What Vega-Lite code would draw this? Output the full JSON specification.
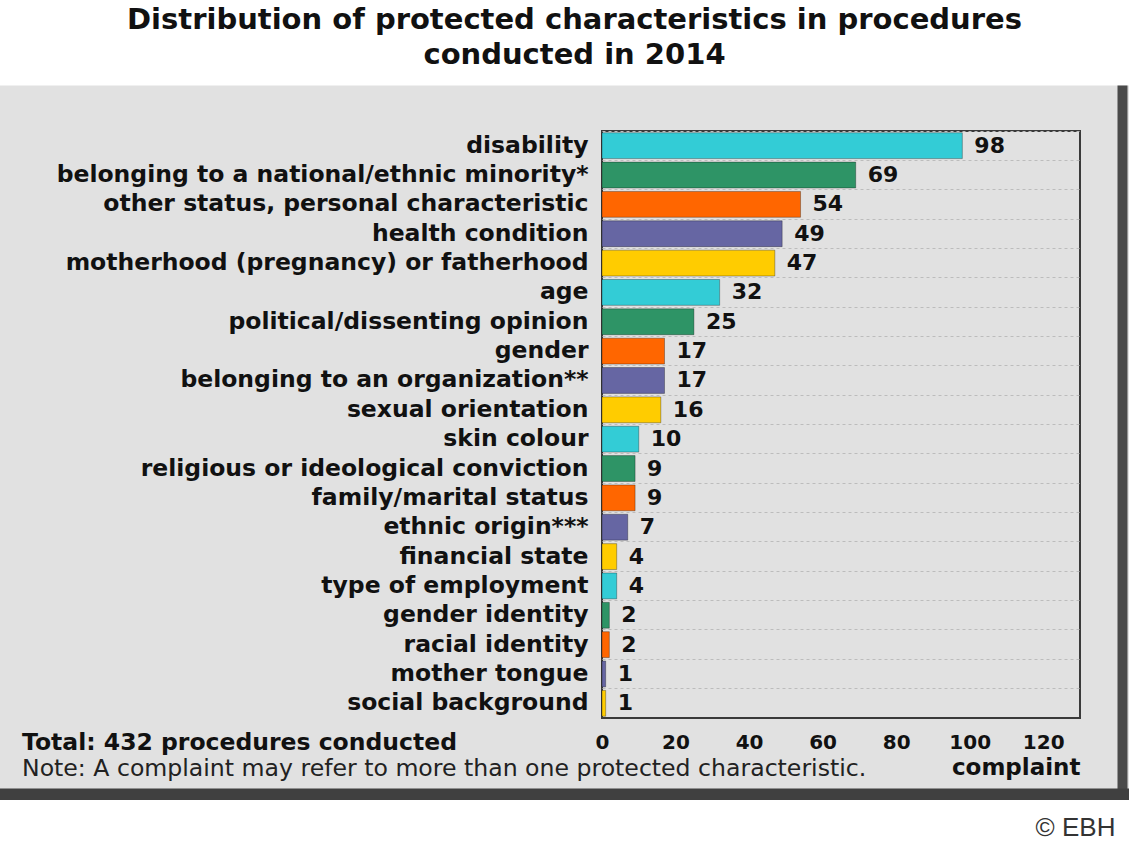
{
  "$schema": "https://vega.github.io/schema/vega-lite/v6.json",
  "width": 478,
  "height": 587,
  "autosize": {"type": "none"},
  "padding": {"left": 602, "top": 131, "right": 49, "bottom": 125},
  "background": "#e1e1e1",
  "config": {
    "font": "DejaVu Sans",
    "view": {"fill": "#e1e1e1", "stroke": "#3a3a3a", "strokeWidth": 2}
  },
  "title": {
    "text": "Total: 432 procedures conducted",
    "subtitle": "Note: A complaint may refer to more than one protected characteristic.",
    "orient": "bottom",
    "anchor": "start",
    "frame": "group",
    "dx": -580,
    "dy": -116,
    "offset": 0,
    "fontSize": 23.5,
    "fontWeight": "bold",
    "color": "#111111",
    "subtitleFontSize": 23.6,
    "subtitleFontWeight": "normal",
    "subtitleColor": "#222222",
    "subtitlePadding": 3
  },
  "data": {
    "values": [
      {"characteristic": "disability", "complaints": 98},
      {"characteristic": "belonging to a national/ethnic minority*", "complaints": 69},
      {"characteristic": "other status, personal characteristic", "complaints": 54},
      {"characteristic": "health condition", "complaints": 49},
      {"characteristic": "motherhood (pregnancy) or fatherhood", "complaints": 47},
      {"characteristic": "age", "complaints": 32},
      {"characteristic": "political/dissenting opinion", "complaints": 25},
      {"characteristic": "gender", "complaints": 17},
      {"characteristic": "belonging to an organization**", "complaints": 17},
      {"characteristic": "sexual orientation", "complaints": 16},
      {"characteristic": "skin colour", "complaints": 10},
      {"characteristic": "religious or ideological conviction", "complaints": 9},
      {"characteristic": "family/marital status", "complaints": 9},
      {"characteristic": "ethnic origin***", "complaints": 7},
      {"characteristic": "financial state", "complaints": 4},
      {"characteristic": "type of employment", "complaints": 4},
      {"characteristic": "gender identity", "complaints": 2},
      {"characteristic": "racial identity", "complaints": 2},
      {"characteristic": "mother tongue", "complaints": 1},
      {"characteristic": "social background", "complaints": 1}
    ]
  },
  "layer": [
    {
      "mark": {"type": "bar", "height": {"band": 0.88}, "stroke": "#000000", "strokeOpacity": 0.3, "strokeWidth": 1},
      "encoding": {
        "x": {
          "field": "complaints",
          "type": "quantitative",
          "scale": {"domain": [0, 130], "nice": false},
          "axis": {
            "values": [0, 20, 40, 60, 80, 100, 120],
            "grid": false,
            "ticks": false,
            "domain": false,
            "labelFontSize": 20,
            "labelFontWeight": "bold",
            "labelColor": "#111111",
            "labelPadding": 14,
            "labelFlush": false,
            "title": "complaint",
            "titleAnchor": "end",
            "titleFontSize": 23,
            "titleFontWeight": "bold",
            "titleColor": "#111111",
            "titlePadding": 4
          }
        },
        "y": {
          "field": "characteristic",
          "type": "nominal",
          "sort": null,
          "scale": {"paddingInner": 0, "paddingOuter": 0},
          "axis": {
            "title": null,
            "ticks": false,
            "domain": false,
            "labelFontSize": 23.5,
            "labelFontWeight": "bold",
            "labelColor": "#111111",
            "labelPadding": 14,
            "labelLimit": 0,
            "grid": true,
            "gridDash": [3, 3],
            "gridColor": "#bcbcbc",
            "bandPosition": 0
          }
        },
        "color": {
          "field": "characteristic",
          "type": "nominal",
          "legend": null,
          "scale": {
            "domain": ["disability", "belonging to a national/ethnic minority*", "other status, personal characteristic", "health condition", "motherhood (pregnancy) or fatherhood", "age", "political/dissenting opinion", "gender", "belonging to an organization**", "sexual orientation", "skin colour", "religious or ideological conviction", "family/marital status", "ethnic origin***", "financial state", "type of employment", "gender identity", "racial identity", "mother tongue", "social background"],
            "range": ["#33ccd6", "#2e9466", "#ff6600", "#6666a3", "#ffcc00", "#33ccd6", "#2e9466", "#ff6600", "#6666a3", "#ffcc00", "#33ccd6", "#2e9466", "#ff6600", "#6666a3", "#ffcc00", "#33ccd6", "#2e9466", "#ff6600", "#6666a3", "#ffcc00"]
          }
        }
      }
    },
    {
      "mark": {"type": "text", "align": "left", "baseline": "middle", "dx": 12, "fontSize": 22, "fontWeight": "bold", "color": "#111111"},
      "encoding": {
        "x": {
          "field": "complaints",
          "type": "quantitative",
          "axis": {
            "orient": "top",
            "offset": 46,
            "values": [0, 127.8],
            "labels": false,
            "ticks": true,
            "tickOffset": 50,
            "tickSize": {"condition": {"test": "datum.value === 0", "value": 90}, "value": -715},
            "tickWidth": {"condition": {"test": "datum.value === 0", "value": 1400}, "value": 10},
            "tickColor": {"condition": {"test": "datum.value === 0", "value": "#ffffff"}, "value": "#4a4a4a"},
            "domain": false,
            "grid": false,
            "title": ["Distribution of protected characteristics in procedures", "conducted in 2014"],
            "titleFontSize": 29,
            "titleFontWeight": "bold",
            "titleColor": "#111111",
            "titleX": -28,
            "titleY": -80,
            "titleAlign": "center",
            "titleBaseline": "top",
            "titleLineHeight": 35
          }
        },
        "y": {
          "field": "characteristic",
          "type": "nominal",
          "sort": null,
          "axis": {
            "orient": "right",
            "offset": 55,
            "values": ["mother tongue", "social background"],
            "labels": false,
            "ticks": true,
            "tickSize": -1300,
            "tickOffset": 119.7,
            "tickWidth": {"condition": {"test": "datum.value === 'mother tongue'", "value": 12}, "value": 47},
            "tickColor": {"condition": {"test": "datum.value === 'mother tongue'", "value": "#404040"}, "value": "#ffffff"},
            "domain": false,
            "grid": false,
            "title": "© EBH",
            "titleAngle": 0,
            "titleX": -60,
            "titleY": 696,
            "titleAlign": "center",
            "titleBaseline": "middle",
            "titleFont": "Liberation Sans",
            "titleFontSize": 26,
            "titleFontWeight": "normal",
            "titleColor": "#333333"
          }
        },
        "text": {"field": "complaints", "type": "quantitative"}
      }
    }
  ],
  "resolve": {"axis": {"x": "independent", "y": "independent"}}
}
